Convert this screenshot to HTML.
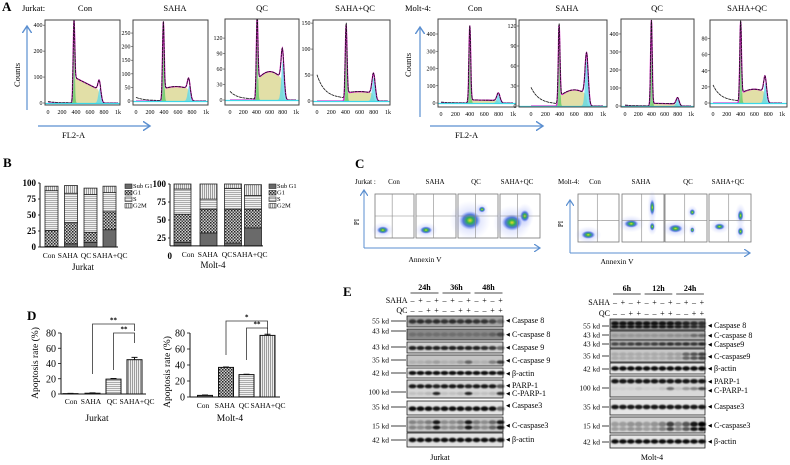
<!DOCTYPE html>
<html><head><meta charset="utf-8"><style>
html,body{margin:0;padding:0;background:#fff;}
svg{display:block;font-family:"Liberation Serif",serif;}
</style></head><body>
<svg id="fig" width="790" height="465" viewBox="0 0 790 465">
<defs>
<pattern id="pSub" width="4" height="4" patternUnits="userSpaceOnUse"><rect width="4" height="4" fill="#6a6a6a"/></pattern>
<pattern id="pG1" width="3" height="3" patternUnits="userSpaceOnUse"><rect width="3" height="3" fill="#cfcfcf"/><rect width="1.5" height="1.5" fill="#222"/><rect x="1.5" y="1.5" width="1.5" height="1.5" fill="#444"/></pattern>
<pattern id="pS" width="4" height="2" patternUnits="userSpaceOnUse"><rect width="4" height="2" fill="#f2f2f2"/><rect width="4" height="0.8" fill="#9a9a9a"/></pattern>
<pattern id="pG2" width="2" height="4" patternUnits="userSpaceOnUse"><rect width="2" height="4" fill="#eee"/><rect width="0.8" height="4" fill="#888"/></pattern>
<radialGradient id="gClu"><stop offset="0" stop-color="#e8e020"/><stop offset="0.3" stop-color="#30b050"/><stop offset="0.65" stop-color="#2050d0" stop-opacity="0.7"/><stop offset="1" stop-color="#6080ff" stop-opacity="0"/></radialGradient>
<radialGradient id="gHalo"><stop offset="0" stop-color="#4060e0" stop-opacity="0.35"/><stop offset="1" stop-color="#8090ff" stop-opacity="0"/></radialGradient>
<filter id="blur" x="-20%" y="-50%" width="140%" height="200%"><feGaussianBlur stdDeviation="0.7"/></filter>
<marker id="arrH" markerWidth="8" markerHeight="8" refX="6" refY="4" orient="auto"><path d="M0,0 L6,4 L0,8" fill="none" stroke="#5b8fd0" stroke-width="1.2"/></marker>
</defs>

<g font-size="8.5">
<text x="2" y="11" font-size="13" font-weight="bold">A</text>
<text x="22" y="11">Jurkat:</text>
<text x="405" y="11">Molt-4:</text>
<text x="20" y="75" transform="rotate(-90 20 75)" text-anchor="middle">Counts</text>
<text x="411" y="65" transform="rotate(-90 411 65)" text-anchor="middle">Counts</text>
<text x="62" y="138">FL2-A</text>
<text x="455" y="138">FL2-A</text>
</g>
<line x1="27" y1="110" x2="27" y2="26" stroke="#5b8fd0" stroke-width="1.2" marker-end="url(#arrH)"/>
<line x1="38" y1="126" x2="150" y2="126" stroke="#5b8fd0" stroke-width="1.2" marker-end="url(#arrH)"/>
<line x1="420" y1="117" x2="420" y2="27" stroke="#5b8fd0" stroke-width="1.2" marker-end="url(#arrH)"/>
<line x1="430" y1="126" x2="543" y2="126" stroke="#5b8fd0" stroke-width="1.2" marker-end="url(#arrH)"/>
<g id="gA"></g>

<text x="3" y="167" font-size="13" font-weight="bold">B</text>
<g id="gB"></g>

<text x="355" y="168" font-size="13" font-weight="bold">C</text>
<g font-size="7">
<text x="355" y="184">Jurkat :</text>
<text x="558" y="184">Molt-4:</text>
<text x="425" y="262" font-size="7.5" text-anchor="middle">Annexin V</text>
<text x="617" y="264" font-size="7.5" text-anchor="middle">Annexin V</text>
<text x="359" y="222" transform="rotate(-90 359 222)" text-anchor="middle">PI</text>
<text x="563" y="224" transform="rotate(-90 563 224)" text-anchor="middle">PI</text>
</g>
<line x1="364" y1="248" x2="364" y2="190" stroke="#5b8fd0" stroke-width="1" marker-end="url(#arrH)"/>
<line x1="364" y1="248" x2="540" y2="248" stroke="#5b8fd0" stroke-width="1" marker-end="url(#arrH)"/>
<line x1="570" y1="253" x2="570" y2="200" stroke="#5b8fd0" stroke-width="1" marker-end="url(#arrH)"/>
<line x1="570" y1="253" x2="750" y2="253" stroke="#5b8fd0" stroke-width="1" marker-end="url(#arrH)"/>
<g id="gC"></g>

<text x="27" y="320" font-size="13" font-weight="bold">D</text>
<g id="gD"></g>

<text x="343" y="296" font-size="13" font-weight="bold">E</text>
<g id="gE"></g>
</svg>

<script>
// ---------- Panel A data ----------
const histTitles = ['Con','SAHA','QC','SAHA+QC','Con','SAHA','QC','SAHA+QC'];
const histG1Pos = [370,390,410,410,400,390,400,400];
const histG1Height = [270,270,140,140,440,115,470,95];
const histSStart = [100,45,40,15,18,14,15,12];
const histSEnd = [50,45,40,15,15,18,12,14];
const histSHump = [0,8,15,3,0,8,0,4];
const histG2Pos = [740,760,800,800,800,775,800,760];
const histG2Height = [55,55,75,45,50,70,40,25];
const histDebris = [5,12,15,45,5,25,5,20];
const histYMax = [320,298,157,156,487,129,483,103];
const histTicks = [[0,100,200,300],[0,50,100,150,200,250],[0,30,60,90,120],[0,50,100,150],[0,100,200,300,400],[0,30,60,90,120],[0,100,200,300,400],[0,20,40,60,80]];
const histTickLabels = [['0','100','200','400'],['0','50','100','150','200','250'],['0','30','60','90','120'],['0','50','100','150'],['0','100','200','300','400'],['0','30','60','90','120'],['0','100','200','300','400'],['0','20','40','60','80']];
const histXTicks = [0,200,400,600,800,1000];
const histXTickLabels = ['0','200','400','600','800','1k'];

// ---------- Panel B data ----------
const phases = ['Sub G1','G1','S','G2M'];
const bCategories = ['Con','SAHA','QC','SAHA+QC'];
const bJurkatSubG1 = [1,5,7,27];
const bJurkatG1 = [25,33,16,28];
const bJurkatS = [62,46,59,30];
const bJurkatG2M = [7,12,10,10];
const bMoltSubG1 = [5,18,4,25];
const bMoltG1 = [39,33,47,26];
const bMoltS = [35,14,29,19];
const bMoltG2M = [7,21,6,15];
const bJurkatTicks = [0,25,50,75,100];
const bMoltTicks = [0,25,50,75,100];

// ---------- Panel C data ----------
const cTitles = ['Con','SAHA','QC','SAHA+QC'];
const cJurkatClusters = [[[0.2,0.82,0.18,0.1]],[[0.25,0.82,0.18,0.1]],[[0.3,0.6,0.32,0.25],[0.6,0.35,0.1,0.08]],[[0.3,0.65,0.3,0.22],[0.62,0.5,0.14,0.16]]];
const cMoltClusters = [[[0.25,0.85,0.2,0.1]],[[0.22,0.62,0.2,0.1],[0.72,0.68,0.07,0.1],[0.72,0.28,0.07,0.2]],[[0.25,0.72,0.2,0.1],[0.65,0.38,0.08,0.08],[0.65,0.75,0.06,0.07]],[[0.25,0.68,0.15,0.08],[0.75,0.45,0.08,0.14],[0.75,0.78,0.08,0.1]]];

// ---------- Panel D data ----------
const dCategories = ['Con','SAHA','QC','SAHA+QC'];
const dJurkatVals = [0.5,1,19.5,45];
const dJurkatErr = [0.3,0.5,0.8,3];
const dMoltVals = [2,37,28,77];
const dMoltErr = [0.5,0.5,0.5,1.5];
const dTicks = [0,20,40,60,80];

// ---------- Panel E data ----------
const eSAHA = ['-','+','-','+','-','+','-','+','-','+','-','+'];
const eQC = ['-','-','+','+','-','-','+','+','-','-','+','+'];
const eJurkatTimes = ['24h','36h','48h'];
const eMoltTimes = ['6h','12h','24h'];
const jCasp8 = [0.7,0.75,0.7,0.75,0.7,0.75,0.7,0.75,0.7,0.7,0.6,0.35];
const jCCasp8 = [0.2,0.2,0.2,0.2,0.2,0.2,0.2,0.2,0.2,0.2,0.3,0.5];
const jCasp9 = [0.85,0.85,0.85,0.85,0.85,0.85,0.85,0.85,0.85,0.8,0.75,0.5];
const jCCasp9 = [0.1,0.1,0.15,0.2,0.1,0.1,0.2,0.5,0.1,0.1,0.35,0.7];
const jActin1 = [0.95,0.95,0.95,0.95,0.95,0.95,0.95,0.95,0.95,0.95,0.95,0.9];
const jParp = [0.9,0.9,0.9,0.85,0.9,0.9,0.9,0.85,0.9,0.9,0.9,0.6];
const jCParp = [0.1,0.1,0.15,0.85,0.1,0.1,0.15,0.85,0.1,0.1,0.15,0.8];
const jCasp3 = [0.95,0.95,0.95,0.9,0.95,0.95,0.95,0.9,0.95,0.95,0.95,0.55];
const jCCasp3 = [0.35,0.3,0.4,0.9,0.3,0.3,0.4,0.9,0.4,0.3,0.5,0.9];
const jActin2 = [0.95,0.95,0.95,0.95,0.95,0.95,0.95,0.95,0.95,0.95,0.95,0.9];
const mCasp8 = [0.9,0.9,0.9,0.9,0.9,0.9,0.9,0.9,0.85,0.8,0.75,0.7];
const mCCasp8 = [0.15,0.15,0.15,0.15,0.15,0.15,0.15,0.2,0.2,0.2,0.4,0.45];
const mCasp9 = [0.6,0.6,0.65,0.7,0.6,0.65,0.7,0.75,0.7,0.75,0.7,0.8];
const mCCasp9 = [0.15,0.15,0.15,0.15,0.15,0.15,0.15,0.2,0.2,0.5,0.6,0.7];
const mActin1 = [0.95,0.95,0.95,0.95,0.95,0.95,0.95,0.95,0.95,0.95,0.95,0.95];
const mParp = [0.9,0.9,0.9,0.9,0.9,0.9,0.9,0.9,0.9,0.9,0.9,0.9];
const mCParp = [0.05,0.05,0.05,0.1,0.05,0.05,0.1,0.5,0.1,0.3,0.4,0.7];
const mCasp3 = [0.9,0.9,0.9,0.9,0.9,0.9,0.9,0.9,0.9,0.9,0.9,0.9];
const mCCasp3 = [0.25,0.25,0.3,0.3,0.25,0.3,0.4,0.7,0.4,0.6,0.9,1];
const mActin2 = [0.95,0.95,0.95,0.95,0.95,0.95,0.95,0.95,0.95,0.95,0.95,0.95];

const NS = 'http://www.w3.org/2000/svg';
function mk(tag, attrs, parent){
  const e = document.createElementNS(NS, tag);
  for (const k in attrs) e.setAttribute(k, attrs[k]);
  parent.appendChild(e);
  return e;
}
function txt(s, attrs, parent){
  const e = mk('text', attrs, parent);
  e.textContent = s;
  return e;
}

// ---------- Panel A drawing ----------
const gA = document.getElementById('gA');
const histBoxes = [
 [45,20,75,85,48,118,103],[133,20,75,85,136,206,101],[225,19,74,86,230,296,100],[313,20,77,85,317,388,101],
 [438,19,78,88,441,513,103],[519,20,88,87,531,603,106],[621,19,73,88,625,691,106],[710,20,77,87,713,782,103]];
const histTitleX = [85,175,262,355,475,567,657,747];
function sig(v){ return 1/(1+Math.exp(-v)); }
for (let i=0;i<8;i++){
  const [bx,by,bw,bh,x0,x1,y0] = histBoxes[i];
  const g = mk('g',{},gA);
  
  
  const t = txt(histTitles[i],{x:histTitleX[i],y:11,'font-size':8.5,'text-anchor':'middle'},g);
  
  
  const xs = ch => x0 + (x1-x0)*ch/1000;
  const ys = v => y0 - (y0-by)*v/histYMax[i];
  const clipId = 'clip'+i;
  const cp = mk('clipPath',{id:clipId},g); mk('rect',{x:bx,y:by,width:bw,height:bh},cp);
  const p1=histG1Pos[i], p2=histG2Pos[i];
  const s1=p1*0.03, s2=p2*0.028;
  const ptsS=[],ptsG1=[],ptsG2=[],ptsFit=[],ptsTot=[];
  for (let ch=0; ch<=1000; ch+=4){
    const g1 = histG1Height[i]*Math.exp(-Math.pow((ch-p1)/s1,2)/2);
    const g2 = histG2Height[i]*Math.exp(-Math.pow((ch-p2)/s2,2)/2);
    let tt = (ch-p1)/(p2-p1); tt=Math.max(0,Math.min(1,tt));
    const lvl = histSStart[i] + (histSEnd[i]-histSStart[i])*tt + histSHump[i]*Math.sin(Math.PI*tt);
    const s = lvl*sig((ch-p1)/6)*sig((p2-ch)/8);
    const deb = histDebris[i]*Math.exp(-ch/110) + histDebris[i]*0.12*sig((p1-ch)/20);
    ptsS.push([xs(ch),ys(s)]); ptsG1.push([xs(ch),ys(g1)]); ptsG2.push([xs(ch),ys(g2)]);
    ptsFit.push([xs(ch),ys(g1+g2+s)]); ptsTot.push([xs(ch),ys(g1+g2+s+deb)]);
  }
  const cg = mk('g',{'clip-path':'url(#'+clipId+')'},g);
  const area = (pts,fill,name)=>{
    const d = 'M'+xs(0)+','+y0+' '+pts.map(p=>'L'+p[0].toFixed(1)+','+p[1].toFixed(1)).join(' ')+' L'+xs(1000)+','+y0+'Z';
    const e = mk('path',{d:d,fill:fill,'fill-opacity':0.75,stroke:'none'},cg);
    
    
  };
  area(ptsS,'#d8d48a','s-phase-area');
  area(ptsG1,'#5cc862','g1-phase-area');
  area(ptsG2,'#5ad8ea','g2m-phase-area');
  const fit = mk('polyline',{points:ptsFit.map(p=>p[0].toFixed(1)+','+p[1].toFixed(1)).join(' '),fill:'none',stroke:'#e020d0','stroke-width':1.3},cg);
  
  
  const tot = mk('polyline',{points:ptsTot.map(p=>p[0].toFixed(1)+','+p[1].toFixed(1)).join(' '),fill:'none',stroke:'#111','stroke-width':0.8,'stroke-dasharray':'3 0.6'},cg);
  
  
  mk('line',{x1:bx,y1:y0+0.5,x2:bx+bw,y2:y0+0.5,stroke:'#3cd8e8','stroke-width':1.2},cg);
  const fr = mk('rect',{x:bx,y:by,width:bw,height:bh,fill:'none',stroke:'#444','stroke-width':1},g);
  
  
  histTicks[i].forEach((v,k)=>{
    const yy = ys(v);
    mk('line',{x1:bx-2,y1:yy,x2:bx,y2:yy,stroke:'#444','stroke-width':0.6},g);
    const tl = txt(histTickLabels[i][k],{x:bx-2.5,y:yy+2,'font-size':6,'text-anchor':'end'},g);
    
    
  });
  histXTicks.forEach((v,k)=>{
    const xx = xs(v);
    const tl = txt(histXTickLabels[k],{x:xx,y:by+bh+9,'font-size':6,'text-anchor':'middle'},g);
    
    
  });
}

// ---------- Panel B drawing ----------
const gB = document.getElementById('gB');
const phaseFills = ['url(#pSub)','url(#pG1)','url(#pS)','url(#pG2)'];
function stackChart(cfg){
  const g = mk('g',{},gB);
  
  
  const ys = v => cfg.y0 - v*cfg.k;
  const series = cfg.series;
  cfg.centers.forEach((cx,j)=>{
    let acc = cfg.base;
    series.forEach((arr,s)=>{
      const r = mk('rect',{x:cx-cfg.w/2,y:ys(acc+arr[j]),width:cfg.w,height:arr[j]*cfg.k,fill:phaseFills[s],stroke:'#222','stroke-width':0.8},g);
      
      
      acc += arr[j];
    });
    const cl = txt(bCategories[j],{x:cfg.labX[j],y:cfg.catY,'font-size':7.5,'text-anchor':'middle'},g);
    
    
  });
  mk('line',{x1:cfg.ax,y1:ys(cfg.axisMin),x2:cfg.ax,y2:ys(100),stroke:'#111','stroke-width':1},g);
  mk('line',{x1:cfg.ax,y1:cfg.y0-cfg.base*cfg.k,x2:cfg.axEnd,y2:cfg.y0-cfg.base*cfg.k,stroke:'#111','stroke-width':1},g);
  cfg.ticks.forEach(v=>{
    if (v < cfg.axisMin) {
      const tl = txt(String(v),{x:cfg.ax+2,y:ys(v)+3,'font-size':9,'font-weight':'bold','text-anchor':'end'},g);
      
      
      return;
    }
    mk('line',{x1:cfg.ax-2,y1:ys(v),x2:cfg.ax,y2:ys(v),stroke:'#111','stroke-width':0.8},g);
    const tl = txt(String(v),{x:cfg.ax-4,y:ys(v)+3,'font-size':9,'font-weight':'bold','text-anchor':'end'},g);
    
    
  });
  const tt = txt(cfg.title,{x:cfg.titleX,y:cfg.titleY,'font-size':9,'text-anchor':'middle'},g);
  
  
  const legY = [188,194.5,201,207.5];
  phases.forEach((p,s)=>{
    const lr = mk('rect',{x:cfg.legX,y:legY[s]-4,width:7,height:4.5,fill:phaseFills[s],stroke:'#222','stroke-width':0.6},g);
    
    
    const lt = txt(p,{x:cfg.legX+8,y:legY[s],'font-size':6.5},g);
    
    
  });
}
stackChart({name:'stacked-chart-jurkat',series:[bJurkatSubG1,bJurkatG1,bJurkatS,bJurkatG2M],centers:[51.5,71,90.5,109.5],labX:[49,68,86,110],w:13,y0:247,k:0.64,base:0,axisMin:0,ax:40,axEnd:118,ticks:bJurkatTicks,catY:258,title:'Jurkat',titleX:83,titleY:270,legX:125});
stackChart({name:'stacked-chart-molt4',series:[bMoltSubG1,bMoltG1,bMoltS,bMoltG2M],centers:[182.5,208.5,233,253],labX:[188,208,227,250],w:17,y0:256,k:0.72,base:14,axisMin:14,ax:170,axEnd:263,ticks:bMoltTicks,catY:257,title:'Molt-4',titleX:213,titleY:268,legX:269});

// ---------- Panel C drawing ----------
const gC = document.getElementById('gC');
function scatterSet(boxes, clusters, titleX, titleY, hLine, vLine, label){
  boxes.forEach((b,i)=>{
    const [x,y,w,h] = b;
    const g = mk('g',{},gC);
    
    
    mk('rect',{x:x,y:y,width:w,height:h,fill:'#fff',stroke:'#777','stroke-width':0.8},g);
    clusters[i].forEach(c=>{
      const halo = mk('ellipse',{cx:x+c[0]*w,cy:y+c[1]*h,rx:c[2]*w*1.6,ry:c[3]*h*1.8,fill:'url(#gHalo)'},g);
      
      
      const e = mk('ellipse',{cx:x+c[0]*w,cy:y+c[1]*h,rx:c[2]*w*0.85,ry:c[3]*h*0.85,fill:'url(#gClu)'},g);
      
      
    });
    mk('line',{x1:x+vLine*w,y1:y,x2:x+vLine*w,y2:y+h,stroke:'#888','stroke-width':0.6},g);
    mk('line',{x1:x,y1:y+hLine*h,x2:x+w,y2:y+hLine*h,stroke:'#888','stroke-width':0.6},g);
    const t = txt(cTitles[i],{x:titleX[i],y:titleY,'font-size':7,'text-anchor':'middle'},g);
    
    
  });
}
scatterSet([[375,194,39,44],[416,194,40,44],[458,194,40,44],[500,194,40,44]],cJurkatClusters,[394,435,476,517],184,0.5,0.44,'jurkat');
scatterSet([[578,194,41,48],[622,194,42,48],[665,194,42,48],[709,194,42,48]],cMoltClusters,[595,641,688,728],184,0.55,0.47,'molt');

// ---------- Panel D drawing ----------
const gD = document.getElementById('gD');
const dFills = ['url(#pSub)','url(#pG1)','url(#pS)','url(#pG2)'];
function barChart(cfg){
  const g = mk('g',{},gD);
  
  
  const ys = v => cfg.y0 - v*cfg.k;
  cfg.vals.forEach((v,j)=>{
    const cx = cfg.centers[j];
    const r = mk('rect',{x:cx-cfg.w/2,y:ys(v),width:cfg.w,height:v*cfg.k,fill:dFills[j],stroke:'#111','stroke-width':1},g);
    
    
    const e = cfg.err[j];
    const eb = mk('path',{d:`M${cx},${ys(v)} V${ys(v+e)} M${cx-3},${ys(v+e)} H${cx+3}`,stroke:'#111','stroke-width':1,fill:'none'},g);
    
    
    const cl = txt(dCategories[j],{x:cfg.labX[j],y:cfg.catY,'font-size':7.5,'text-anchor':'middle'},g);
    
    
  });
  mk('line',{x1:cfg.ax,y1:cfg.y0,x2:cfg.ax,y2:ys(80),stroke:'#111','stroke-width':1},g);
  mk('line',{x1:cfg.ax,y1:cfg.y0,x2:cfg.axEnd,y2:cfg.y0,stroke:'#111','stroke-width':1},g);
  dTicks.forEach(v=>{
    mk('line',{x1:cfg.ax-3,y1:ys(v),x2:cfg.ax,y2:ys(v),stroke:'#111','stroke-width':0.8},g);
    const tl = txt(String(v),{x:cfg.ax-5,y:ys(v)+3.5,'font-size':10,'text-anchor':'end'},g);
    
    
  });
  const yt = txt('Apoptosis rate (%)',{x:cfg.ytX,y:cfg.ytY,'font-size':9.5,'text-anchor':'middle',transform:`rotate(-90 ${cfg.ytX} ${cfg.ytY})`},g);
  
  
  const tt = txt(cfg.title,{x:cfg.titleX,y:cfg.titleY,'font-size':9.5,'text-anchor':'middle'},g);
  
  
  cfg.brackets.forEach(br=>{
    const [a,b,yb,la,lb,star] = br;
    const p = mk('path',{d:`M${cfg.centers[a]},${la} V${yb} H${cfg.centers[b]} V${lb}`,stroke:'#333','stroke-width':0.8,fill:'none'},g);
    
    
    const s = txt(star,{x:(cfg.centers[a]+cfg.centers[b])/2,y:yb-1.5,'font-size':7,'text-anchor':'middle','font-weight':'bold'},g);
    
    
  });
}
barChart({name:'apoptosis-chart-jurkat',vals:dJurkatVals,err:dJurkatErr,centers:[70.5,92.5,113.5,134.5],labX:[71,91,112,137],w:15,y0:394,k:0.7625,ax:61,axEnd:146,catY:404,title:'Jurkat',titleX:97,titleY:421,ytX:38,ytY:363,brackets:[[1,3,324,374,331,'**'],[2,3,333,370,343,'**']]});
barChart({name:'apoptosis-chart-molt4',vals:dMoltVals,err:dMoltErr,centers:[205,226,246.5,267.5],labX:[203,225,244,268],w:15,y0:397,k:0.8,ax:190,axEnd:280,catY:408,title:'Molt-4',titleX:230,titleY:421,ytX:170,ytY:372,brackets:[[1,3,321,355,329,'*'],[2,3,328,360,334,'**']]});

// ---------- Panel E drawing ----------
const gE = document.getElementById('gE');
function blotSet(cfg){
  const g = mk('g',{},gE);
  
  
  const lane = j => cfg.lx0 + j*cfg.ls;
  cfg.times.forEach((t,k)=>{
    const xa = lane(k*4)-2, xb = lane(k*4+3)+2;
    const tl = txt(t,{x:(xa+xb)/2,y:cfg.hy,'font-size':8,'text-anchor':'middle','font-weight':'bold'},g);
    
    
    mk('line',{x1:xa,y1:cfg.hy+3,x2:xb,y2:cfg.hy+3,stroke:'#111','stroke-width':0.8},g);
  });
  const sl = txt('SAHA',{x:cfg.lx0-5,y:cfg.sy,'font-size':8,'text-anchor':'end'},g);
  
  
  const ql = txt('QC',{x:cfg.lx0-5,y:cfg.qy,'font-size':8,'text-anchor':'end'},g);
  
  
  for (let j=0;j<12;j++){
    const a = txt(eSAHA[j]==='+'?'+':'–',{x:lane(j),y:cfg.sy,'font-size':8,'text-anchor':'middle'},g);
    
    
    const b = txt(eQC[j]==='+'?'+':'–',{x:lane(j),y:cfg.qy,'font-size':8,'text-anchor':'middle'},g);
    
    
  }
  cfg.rows.forEach(r=>{
    const [y0,y1,bg,bands,kd,kdY,labels] = r;
    const rg = mk('g',{},g);
    
    
    mk('rect',{x:cfg.bx0,y:y0,width:cfg.bx1-cfg.bx0,height:y1-y0,fill:bg,stroke:'#222','stroke-width':0.8},rg);
    bands.forEach(bd=>{
      const [fy,vals,th] = bd;
      vals.forEach((v,j)=>{
        const e = mk('ellipse',{cx:lane(j),cy:y0+(y1-y0)*fy,rx:cfg.ls*0.5,ry:th,fill:'#000','fill-opacity':v,filter:'url(#blur)'},rg);
        
        
      });
    });
    const kt = txt(kd,{x:cfg.kdX,y:kdY+2.5,'font-size':7.5,'text-anchor':'end'},rg);
    
    
    mk('line',{x1:cfg.kdX+2,y1:kdY,x2:cfg.bx0-1,y2:kdY,stroke:'#111','stroke-width':0.8},rg);
    labels.forEach(l=>{
      const [s,ly] = l;
      const at = txt('◀',{x:cfg.bx1+3,y:ly+2,'font-size':5},rg);
      
      
      const lt = txt(s,{x:cfg.bx1+9,y:ly+3,'font-size':8},rg);
      
      
    });
  });
  const ct = txt(cfg.title,{x:cfg.titleX,y:460,'font-size':8,'text-anchor':'middle'},g);
  
  
}
blotSet({name:'western-blot-jurkat',times:eJurkatTimes,lx0:412.5,ls:8,bx0:407,bx1:503,hy:290,sy:303,qy:313,kdX:389,title:'Jurkat',titleX:440,
 rows:[
  [316,327,'#a8a8a8',[[0.5,jCasp8,2.2]],'55 kd',321,[['Caspase 8',320]]],
  [329,340,'#8a8a8a',[[0.5,jCCasp8,2]],'43 kd',331,[['C-caspase 8',334]]],
  [342,353,'#d0d0d0',[[0.55,jCasp9,2]],'43 kd',347,[['Caspase 9',347]]],
  [355,366,'#c4c4c4',[[0.65,jCCasp9,1.8]],'35 kd',360,[['C-caspase 9',360]]],
  [368,378,'#e6e6e6',[[0.5,jActin1,2]],'42 kd',373,[['β-actin',373]]],
  [380,398,'#d6d6d6',[[0.35,jParp,2],[0.75,jCParp,1.6]],'100 kd',392,[['PARP-1',385],['C-PARP-1',393]]],
  [401,415,'#e4e4e4',[[0.55,jCasp3,2.3]],'35 kd',407,[['Caspase3',405]]],
  [417,432,'#c8c8c8',[[0.35,jCCasp3,2],[0.7,jCCasp3,2]],'15 kd',426,[['C-caspase3',425]]],
  [433,447,'#e2e2e2',[[0.5,jActin2,2.2]],'42 kd',440,[['β-actin',439]]]
 ]});
blotSet({name:'western-blot-molt4',times:eMoltTimes,lx0:615,ls:7.9,bx0:610,bx1:705,hy:291,sy:305,qy:316,kdX:600,title:'Molt-4',titleX:652,
 rows:[
  [319,330,'#9a9a9a',[[0.4,mCasp8,2],[0.7,mCasp8,1.6]],'55 kd',326,[['Caspase 8',325]]],
  [331,340,'#b0b0b0',[[0.5,mCCasp8,1.6]],'43 kd',335,[['C-caspase 8',335]]],
  [340,348,'#a8a8a8',[[0.5,mCasp9,1.6]],'43 kd',344,[['Caspase9',344]]],
  [349,362,'#c8c8c8',[[0.4,mCCasp9,1.8],[0.7,mCCasp9,1.8]],'35 kd',356,[['C-caspase9',356]]],
  [363,374,'#e4e4e4',[[0.5,mActin1,2.2]],'42 kd',369,[['β-actin',368]]],
  [376,397,'#d8d8d8',[[0.25,mParp,2.3],[0.6,mCParp,1.6]],'100 kd',388,[['PARP-1',381],['C-PARP-1',390]]],
  [399,415,'#e6e6e6',[[0.5,mCasp3,2.3]],'35 kd',407,[['Caspase3',406]]],
  [417,433,'#d2d2d2',[[0.45,mCCasp3,2.6],[0.75,mCCasp3,2]],'15 kd',426,[['C-caspase3',425]]],
  [435,448,'#e6e6e6',[[0.5,mActin2,2.2]],'42 kd',442,[['β-actin',441]]]
 ]});
</script>
</body></html>
